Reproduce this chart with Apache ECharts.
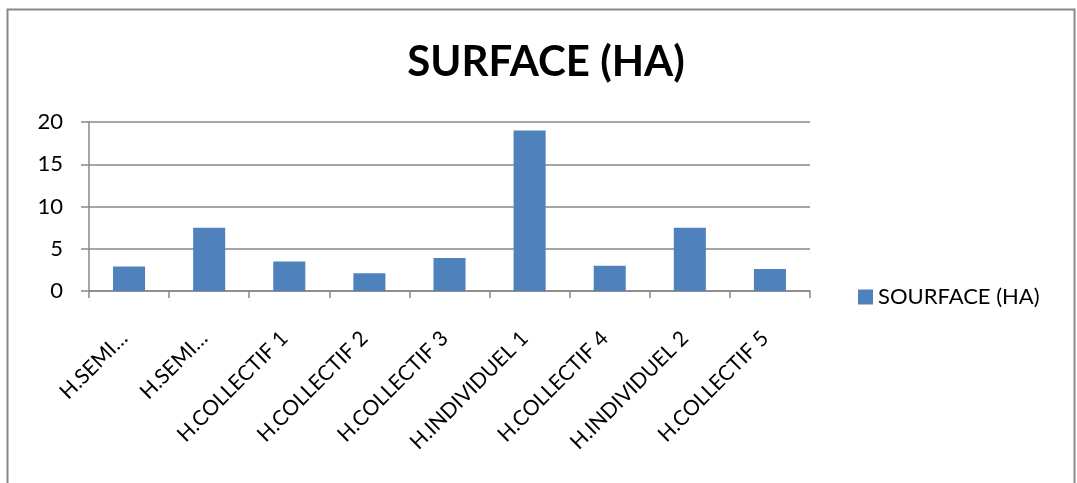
<!DOCTYPE html>
<html>
<head>
<meta charset="utf-8">
<script src="https://cdn.jsdelivr.net/npm/echarts@6/dist/echarts.min.js"></script>
<style>
  html, body { margin: 0; padding: 0; background: #fff; }
  #chart { width: 1077px; height: 483px; }
</style>
</head>
<body>
<div id="chart"></div>
<script>
// Surface per housing block, in hectares
const categories = [
  'H.SEMI…', 'H.SEMI…', 'H.COLLECTIF 1', 'H.COLLECTIF 2', 'H.COLLECTIF 3',
  'H.INDIVIDUEL 1', 'H.COLLECTIF 4', 'H.INDIVIDUEL 2', 'H.COLLECTIF 5'
];
const surfaceHa = [2.9, 7.5, 3.5, 2.1, 3.9, 19, 3, 7.5, 2.6];
const seriesName = 'SOURFACE (HA)';
const chartTitle = 'SURFACE (HA)';
const yTicks = { min: 0, max: 20, interval: 5 };

const font = 'Lato, "Open Sans", sans-serif';
const gray = '#888888';

const chart = echarts.init(document.getElementById('chart'), null, { renderer: 'canvas' });
chart.setOption({
  animation: false,
  backgroundColor: '#ffffff',
  graphic: [{
    type: 'rect',
    shape: { x: 7.5, y: 9.5, width: 1067, height: 520 },
    style: { fill: 'none', stroke: gray, lineWidth: 2 },
    silent: true
  }],
  title: {
    text: chartTitle,
    left: 541,
    textAlign: 'center',
    top: 36,
    textStyle: { fontFamily: font, fontWeight: 'bold', fontSize: 42, color: '#000' }
  },
  legend: {
    left: 853,
    top: 281,
    itemWidth: 15,
    itemHeight: 15,
    itemGap: 8,
    icon: 'rect',
    data: [seriesName],
    textStyle: { fontFamily: font, fontSize: 22, color: '#000' }
  },
  grid: { left: 89, right: 267, top: 122, bottom: 192, containLabel: false },
  xAxis: {
    type: 'category',
    data: categories,
    boundaryGap: true,
    axisLine: { lineStyle: { color: gray, width: 1.5 } },
    axisTick: { show: true, length: 7, lineStyle: { color: gray, width: 1.5 } },
    axisLabel: {
      rotate: 45,
      interval: 0,
      margin: 39,
      padding: [0, 7, 0, 0],
      fontFamily: font,
      fontSize: 21,
      color: '#000'
    }
  },
  yAxis: {
    type: 'value',
    min: yTicks.min,
    max: yTicks.max,
    interval: yTicks.interval,
    axisLine: { show: true, lineStyle: { color: gray, width: 1.5 } },
    axisTick: { show: true, length: 8, lineStyle: { color: gray, width: 1.5 } },
    splitLine: { show: true, lineStyle: { color: gray, width: 1.5 } },
    axisLabel: { margin: 26, fontFamily: font, fontSize: 22, color: '#000' }
  },
  series: [{
    name: seriesName,
    type: 'bar',
    data: surfaceHa,
    barWidth: '40%',
    itemStyle: { color: '#4F81BD' }
  }]
});
</script>
</body>
</html>
